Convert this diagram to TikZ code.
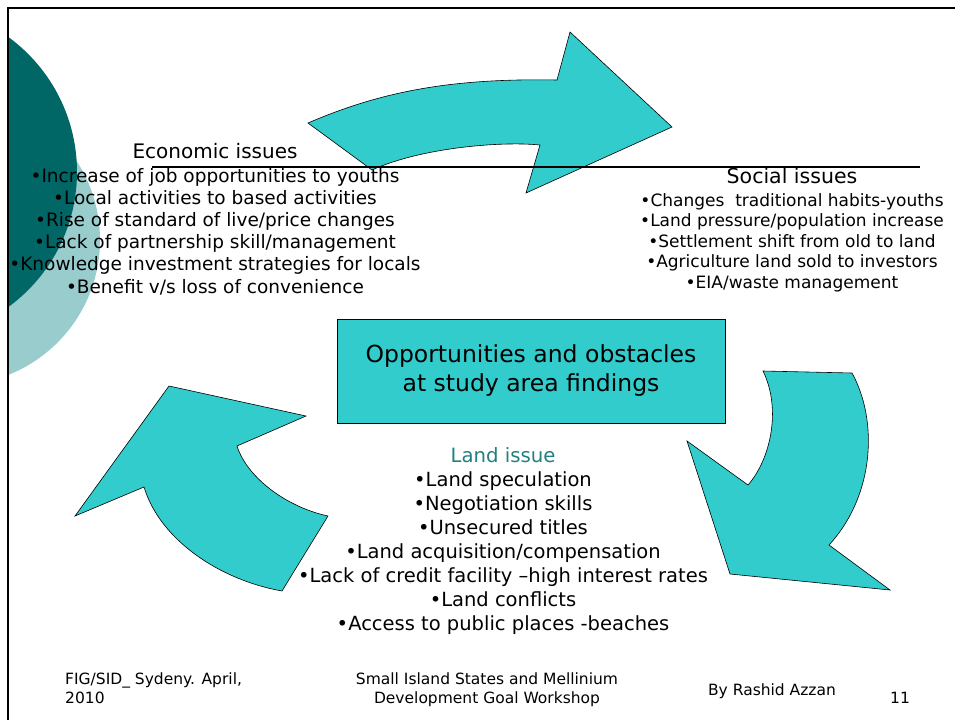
\documentclass[tikz,border=0pt]{standalone}
\usepackage{fontspec}
\setmainfont{DejaVu Sans}
\usetikzlibrary{positioning}
\definecolor{slideteal}{RGB}{51,204,204}
\definecolor{darkteal}{RGB}{0,102,102}
\definecolor{paleteal}{RGB}{153,204,204}
\definecolor{landteal}{RGB}{34,128,128}
\tikzstyle{bigarrow} = [fill=slideteal, draw=black, line width=0.6pt, line join=miter]
\tikzstyle{heading} = [inner sep=0pt, anchor=base, align=center]
\tikzstyle{bullets} = [inner sep=0pt, anchor=base, align=center]
\tikzstyle{findingsbox} = [rectangle, draw=black, line width=0.8pt, fill=slideteal, minimum width=388pt, minimum height=104pt, align=center, inner sep=0pt]
\tikzstyle{footer} = [inner sep=0pt, anchor=base, align=center, font=\fontsize{15.5}{18.5}\selectfont]

\begin{document}
\begin{tikzpicture}[x=1pt, y=-1pt]
        \useasboundingbox (0,0) rectangle (955,720);
        % Slide background ------------------------------------------------------------------------
        \begin{scope}
            \clip (8,0) rectangle (955,720);
            \fill[paleteal] (-45,240) circle[radius=145pt];
            \fill[darkteal] (-90,172) circle[radius=167pt];
        \end{scope}
        \draw[line width=2.5pt] (8,720) -- (8,8) -- (955,8);
        % Arrows -----------------------------------------------------------------------------------
        \draw[bigarrow] (308,123) .. controls (380,92) and (450,78) .. (557,80) -- (570,32) -- (672,127)
            -- (526,193) -- (540,145) .. controls (500,141) and (420,148) .. (372,170) -- cycle;
        \draw[bigarrow] (763,371) -- (852,373) .. controls (878,420) and (875,495) .. (829,545) -- (890,590)
            -- (730,574) -- (687,441) -- (748,485) .. controls (770,460) and (782,410) .. (763,371) -- cycle;
        \draw[bigarrow] (169,386) -- (306,416) -- (237,446) .. controls (248,480) and (290,508) .. (328,516)
            -- (282,591) .. controls (220,580) and (160,540) .. (144,487) -- (75,516) -- cycle;
        \draw[line width=1.8pt] (152,167) -- (920,167);
        % Centre box -------------------------------------------------------------------------------
        \node[findingsbox, font=\fontsize{23.5}{29}\selectfont](findings) at (531,371){Opportunities and obstacles\\ at study area findings};
        % Economic issues (list anchored on its last baseline) -------------------------------------
        \node[heading, font=\fontsize{20}{22}\selectfont](econ_title) at (215,158){Economic issues};
        \node[bullets, font=\fontsize{18.5}{22.2}\selectfont](econ_list) at (215,293){•Increase of job opportunities to youths\\ •Local activities to based activities\\ •Rise of standard of live/price changes\\ •Lack of partnership skill/management\\ •Knowledge investment strategies for locals\\ •Benefit v/s loss of convenience};
        % Social issues ----------------------------------------------------------------------------
        \node[heading, font=\fontsize{20.5}{22}\selectfont](social_title) at (792,183){Social issues};
        \node[bullets, font=\fontsize{17}{20.5}\selectfont](social_list) at (792,288){•Changes\ \ traditional habits-youths\\ •Land pressure/population increase\\ •Settlement shift from old to land\\ •Agriculture land sold to investors\\ •EIA/waste management};
        % Land issue -------------------------------------------------------------------------------
        \node[heading, text=landteal, font=\fontsize{19.7}{24}\selectfont](land_title) at (503,462){Land issue};
        \node[bullets, font=\fontsize{19.5}{24}\selectfont](land_list) at (503,630){•Land speculation\\ •Negotiation skills\\ •Unsecured titles\\ •Land acquisition/compensation\\ •Lack of credit facility –high interest rates\\ •Land conflicts\\ •Access to public places -beaches};
        % Footer -----------------------------------------------------------------------------------
        \node[footer, anchor=base west, align=left](foot_place) at (65,703){FIG/SID\_ Sydeny. April,\\ 2010};
        \node[footer](foot_event) at (487,703){Small Island States and Mellinium\\ Development Goal Workshop};
        \node[footer](foot_author) at (772,695){By Rashid Azzan};
        \node[footer](foot_page) at (900,703){11};
    \end{tikzpicture}
\end{document}
